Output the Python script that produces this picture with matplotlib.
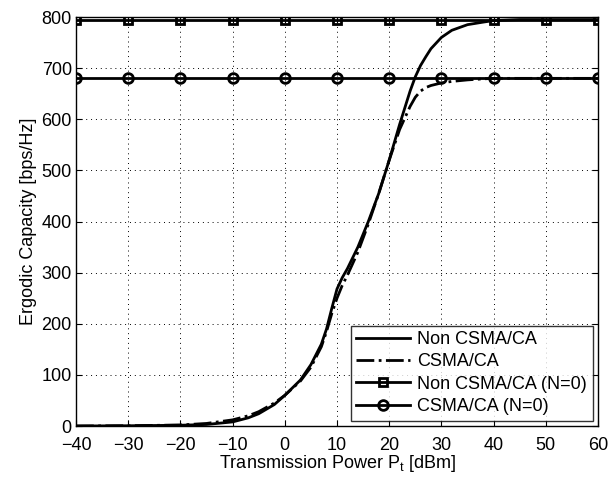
import numpy as np
import matplotlib.pyplot as plt

plt.rcParams['font.family'] = ['Liberation Sans', 'DejaVu Sans']

# Данные
pt = [-40, -30, -20, -15, -10, -7, -5, -2, 0, 3, 5, 7, 8, 9, 10, 11, 12, 14, 16, 18, 20, 22, 24, 25, 26, 27, 28, 30, 32, 35, 38, 40, 45, 50, 60]
non_csma = [0, 0.5, 1.5, 3, 8, 16, 24, 42, 60, 90, 120, 160, 190, 230, 268, 290, 308, 350, 400, 455, 520, 590, 655, 683, 705, 722, 738, 760, 774, 785, 790, 793, 795, 795, 795]
csma = [0, 0.5, 2, 5, 12, 20, 28, 45, 60, 88, 115, 155, 185, 220, 250, 275, 295, 340, 395, 455, 520, 580, 625, 643, 655, 662, 666, 671, 674, 677, 679, 680, 680, 680, 680]
pt_n0 = [-40, -30, -20, -10, 0, 10, 20, 30, 40, 50, 60]
non_csma_n0 = [795] * len(pt_n0)
csma_n0 = [680] * len(pt_n0)
xticks = list(range(-40, 61, 10))

fig = plt.figure(figsize=(6.11, 4.83), dpi=100)
ax = fig.add_axes([0.1244, 0.118, 0.8543, 0.8468])

ax.plot(pt, non_csma, 'k-', lw=2, label='Non CSMA/CA')
ax.plot(pt, csma, 'k-.', lw=2, label='CSMA/CA')
ax.plot(pt_n0, non_csma_n0, 'k-s', lw=2, ms=6, mfc='none', mew=2, label='Non CSMA/CA (N=0)')
ax.plot(pt_n0, csma_n0, 'k-o', lw=2, ms=7, mfc='none', mew=2, label='CSMA/CA (N=0)')

ax.set_xlim(-40, 60)
ax.set_ylim(0, 800)
ax.set_xticks(xticks)
ax.set_yticks(np.arange(0, 801, 100))
ax.set_xticklabels(['\u2212' + str(-v) if v < 0 else str(v) for v in xticks])
ax.tick_params(direction='in', labelsize=13, length=4, top=True, right=True)
ax.tick_params(axis='x', pad=8)
ax.tick_params(axis='y', pad=3)
ax.grid(True, linestyle=(0, (1, 4)), color='k', lw=0.7)
ax.set_xlabel('Transmission Power P$_\\mathregular{t}$ [dBm]', fontsize=13, labelpad=-1)
ax.set_ylabel('Ergodic Capacity [bps/Hz]', fontsize=13, labelpad=3)
for s in ax.spines.values():
    s.set_linewidth(1)

leg = ax.legend(loc='lower right', fontsize=13, fancybox=False, edgecolor='k',
                handlelength=3.0, borderpad=0.3, labelspacing=0.3, handletextpad=0.4,
                borderaxespad=0.3)
leg.get_frame().set_linewidth(1)

fig.savefig('out.png', dpi=100)
